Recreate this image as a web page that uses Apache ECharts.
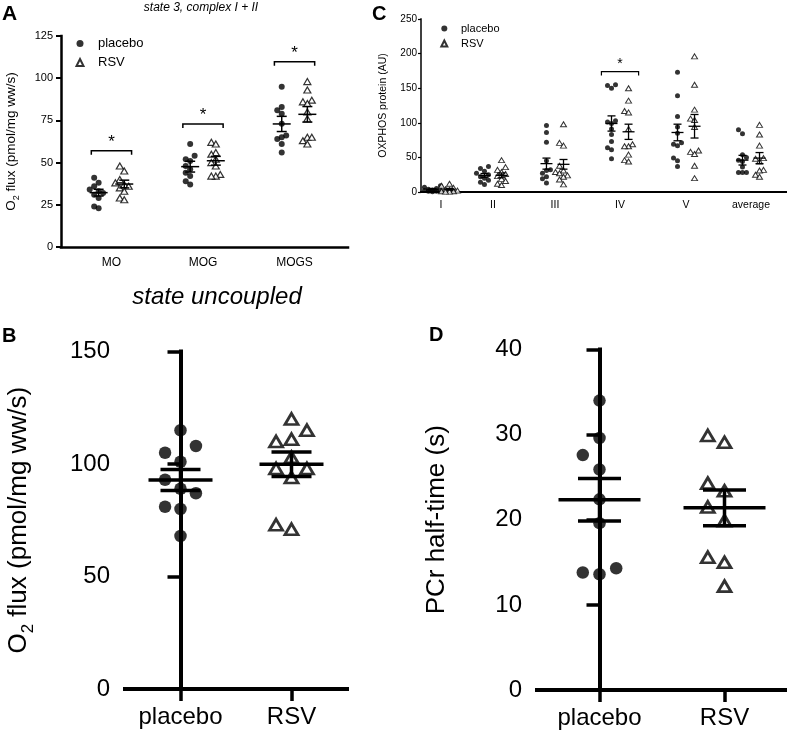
<!DOCTYPE html>
<html>
<head>
<meta charset="utf-8">
<script src="https://cdn.jsdelivr.net/npm/echarts@6/dist/echarts.min.js"></script>
<style>html,body{margin:0;padding:0;background:#fff}#c{width:787px;height:736px}</style>
</head>
<body>
<div id="c"></div>
<script>
// ---------------- data ----------------
// Panel A: state 3, complex I + II
const catA = ['MO', 'MOG', 'MOGS'];
const aPlacebo = [
  [41, 38, 36, 34, 33, 32, 31, 29, 24, 23],
  [61, 54, 52, 51, 48, 46, 44, 42, 39, 37],
  [95, 83, 81, 79, 73, 66, 65, 64, 61, 56]
];
const aRSV = [
  [48, 45, 40, 38, 37, 36, 35, 33, 29, 28],
  [62, 61, 56, 55, 52, 50, 48, 43, 42, 42],
  [98, 93, 87, 86, 85, 80, 76, 65, 65, 63, 61]
];
const aPlaceboMean = [32.2, 47.6, 72.9];
const aPlaceboSem = [2.0, 3.2, 4.5];
const aRSVMean = [37.3, 51.1, 78.6];
const aRSVSem = [2.3, 2.6, 4.6];
const aSigY = [57, 72.9, 109.8];
const aTicks = [0, 25, 50, 75, 100, 125];

// Panel C: OXPHOS protein
const catC = ['I', 'II', 'III', 'IV', 'V', 'average'];
const cPlacebo = [
  [9, 7, 5, 4, 3, 2, 2, 1, 1, 0.5],
  [37, 34, 30, 27, 25, 22, 20, 17, 14, 11],
  [96, 86, 72, 45, 32, 31, 27, 22, 19, 13],
  [155, 154, 150, 103, 101, 99, 91, 83, 73, 64, 61, 48],
  [173, 139, 109, 94, 85, 71, 69, 67, 49, 45, 37],
  [90, 84, 54, 50, 46, 44, 36, 28, 28, 28]
];
const cRSV = [
  [12, 9, 6, 4, 3, 2, 1, 1, 0.5, 0.5],
  [46, 36, 32, 29, 26, 23, 19, 16, 12, 10],
  [98, 71, 67, 38, 31, 29, 27, 24, 22, 18, 11],
  [150, 132, 117, 115, 91, 69, 66, 66, 54, 46, 44],
  [196, 155, 119, 106, 104, 94, 60, 58, 55, 38, 20],
  [97, 83, 67, 49, 48, 44, 32, 31, 25, 22]
];
const cPlaceboMean = [4, 24, 41, 99, 86, 46];
const cPlaceboSem = [1, 2.7, 8, 11, 12, 7];
const cRSVMean = [4, 24, 40, 87, 95, 49];
const cRSVSem = [1.2, 3.5, 7, 11, 17, 8];
const cSigY = [null, null, null, 174, null, null];
const cTicks = [0, 50, 100, 150, 200, 250];

// Panel B: state uncoupled
const catB = ['placebo', 'RSV'];
const bPlacebo = [115, 108, 105, 101, 93, 89, 87, 81, 80, 68];
const bRSV = [120, 115, 111, 110, 103, 98, 98, 94, 73, 71];
const bMean = [92.9, 99.9];
const bSem = [4.7, 5.4];
const bTicks = [0, 50, 100, 150];

// Panel D: PCr half-time
const catD = ['placebo', 'RSV'];
const dPlacebo = [34, 29.6, 27.6, 25.9, 22.4, 19.6, 14.3, 13.8, 13.6];
const dRSV = [29.9, 29.1, 24.3, 23.4, 21.5, 19.9, 15.6, 15, 12.2];
const dMean = [22.35, 21.4];
const dSem = [2.5, 2.1];
const dTicks = [0, 10, 20, 30, 40];

// ---------------- layout (not data) ----------------
const F = "'Liberation Sans', Arial, Helvetica, sans-serif";
const POS_A = [1, 2, 3];
const POS_C = [0.333, 1.2, 2.233, 3.317, 4.417, 5.5];
const POS_BD = [0, 1];
const LA = {px: 92.5, py: 1.688, dY: 5.5, step: 4.5, maxCol: 2, off: 0.14};
const LC = {px: 60, py: 0.6932, dY: 5, step: 4, maxCol: 2, off: 0.142};
const LB = {px: 111.5, py: 2.252, dY: 18, step: 15.5, maxCol: 1, off: 0};
const LD = {px: 125, py: 8.51, dY: 18, step: 16.7, maxCol: 1, off: 0};

// deterministic column beeswarm: a point moves to a side column only when it
// would sit too close to another point of the same column
function swarm(values, L) {
  const order = values.map((v, i) => i).sort((a, b) => values[a] - values[b]);
  const placed = [];
  const cols = new Array(values.length);
  order.forEach(i => {
    const y = values[i] * L.py;
    let best = 0, bestGap = -1;
    for (let k = 0; k <= 2 * L.maxCol; k++) {
      const m = k === 0 ? 0 : (k % 2 ? -Math.ceil(k / 2) : Math.ceil(k / 2));
      let gap = Infinity;
      placed.forEach(p => { if (p.c === m) gap = Math.min(gap, Math.abs(p.y - y)); });
      if (gap >= L.dY) { best = m; break; }
      if (gap > bestGap) { bestGap = gap; best = m; }
    }
    placed.push({c: best, y: y});
    cols[i] = best;
  });
  return cols.map(c => c * L.step);
}
function swarmData(groups, pos, side, L) {
  const out = [];
  groups.forEach((vals, i) => {
    const offs = swarm(vals, L);
    vals.forEach((v, j) => out.push([pos[i] + side * L.off + offs[j] / L.px, v]));
  });
  return out;
}
function meanData(pos, side, L, means, sems) {
  return means.map((m, i) => [pos[i] + side * L.off, m, sems[i]]);
}
function meanSemRender(w, cap, lw) {
  return function (params, api) {
    const x = api.value(0), m = api.value(1), s = api.value(2);
    const c = api.coord([x, m]), t = api.coord([x, m + s]), b = api.coord([x, m - s]);
    const st = {stroke: '#000', lineWidth: lw, fill: null};
    return {type: 'group', children: [
      {type: 'line', shape: {x1: c[0] - w / 2, y1: c[1], x2: c[0] + w / 2, y2: c[1]}, style: st},
      {type: 'line', shape: {x1: c[0], y1: t[1], x2: c[0], y2: b[1]}, style: st},
      {type: 'line', shape: {x1: c[0] - cap / 2, y1: t[1], x2: c[0] + cap / 2, y2: t[1]}, style: st},
      {type: 'line', shape: {x1: c[0] - cap / 2, y1: b[1], x2: c[0] + cap / 2, y2: b[1]}, style: st}
    ]};
  };
}
function bracketRender(hw, tick, lw, fs) {
  return function (params, api) {
    const x = api.value(0), y = api.value(1);
    const l = api.coord([x - hw, y]), r = api.coord([x + hw, y]);
    return {type: 'group', children: [
      {type: 'polyline', shape: {points: [[l[0], l[1] + tick], [l[0], l[1]], [r[0], r[1]], [r[0], r[1] + tick]]},
        style: {stroke: '#000', lineWidth: lw, fill: null}},
      {type: 'text', style: {text: '*', x: (l[0] + r[0]) / 2, y: l[1], align: 'center', verticalAlign: 'bottom',
        fontSize: fs, fontFamily: F, fill: '#000'}}
    ]};
  };
}
function sigData(pos, ys) {
  const out = [];
  ys.forEach((y, i) => { if (y !== null) out.push([pos[i], y]); });
  return out;
}
function catFormatter(pos, cats) {
  return v => { const i = pos.findIndex(p => Math.abs(p - v) < 1e-6); return i >= 0 ? cats[i] : ''; };
}
function yAxis(grid, ticks, o) {
  return {
    type: 'value', gridIndex: grid, min: ticks[0], max: ticks[ticks.length - 1], interval: ticks[1] - ticks[0],
    axisLine: {show: true, lineStyle: {color: '#000', width: o.lw, cap: 'square'}},
    axisTick: {show: true, length: o.tl, lineStyle: {color: '#000', width: o.tw}},
    axisLabel: {margin: o.lm, fontSize: o.fs, fontFamily: F, color: '#000'},
    splitLine: {show: false},
    name: o.name, nameLocation: 'middle', nameGap: o.ng, nameRotate: 90,
    nameTextStyle: {fontSize: o.nfs, fontFamily: F, color: '#000', lineHeight: o.nlh,
      rich: {sub: {fontSize: o.sfs, fontFamily: F, color: '#000', verticalAlign: 'bottom', lineHeight: o.sfs}}}
  };
}
function xAxis(grid, min, max, pos, cats, o) {
  return {
    type: 'value', gridIndex: grid, min: min, max: max,
    axisLine: {show: true, lineStyle: {color: '#000', width: o.lw, cap: 'square'}},
    axisTick: {show: o.tick, customValues: pos, length: o.tl || 0, lineStyle: {color: '#000', width: o.tw || 1}},
    axisLabel: {customValues: pos, formatter: catFormatter(pos, cats), margin: o.lm, fontSize: o.fs, fontFamily: F, color: '#000'},
    splitLine: {show: false}
  };
}
const circ = (size) => ({symbol: 'circle', symbolSize: size, itemStyle: {color: '#000'}});
const tri = (size, bw) => ({symbol: 'triangle', symbolSize: size, itemStyle: {color: '#fff', borderColor: '#000', borderWidth: bw}});

const series = [];
function addPanel(idx, groupsP, groupsR, pos, L, mP, sP, mR, sR, st) {
  series.push(Object.assign({type: 'scatter', name: 'placebo', xAxisIndex: idx, yAxisIndex: idx, z: 2,
    data: swarmData(groupsP, pos, -1, L)}, circ(st.cs)));
  series.push(Object.assign({type: 'scatter', name: 'RSV', xAxisIndex: idx, yAxisIndex: idx, z: 2,
    data: swarmData(groupsR, pos, 1, L)}, tri(st.ts, st.bw)));
  series.push({type: 'custom', name: 'mean' + idx, xAxisIndex: idx, yAxisIndex: idx, z: 3,
    renderItem: meanSemRender(st.mw, st.cw, st.mlw), encode: {x: 0, y: 1},
    data: meanData(pos, -1, L, mP, sP).concat(meanData(pos, 1, L, mR, sR))});
}
addPanel(0, aPlacebo, aRSV, POS_A, LA, aPlaceboMean, aPlaceboSem, aRSVMean, aRSVSem,
  {cs: 6, ts: [7, 6], bw: 1.2, mw: 18, cw: 10, mlw: 1.5});
series.push({type: 'custom', name: 'sigA', xAxisIndex: 0, yAxisIndex: 0, z: 3, encode: {x: 0, y: 1},
  renderItem: bracketRender(0.22, 4, 1.5, 17), data: sigData(POS_A, aSigY)});
addPanel(1, cPlacebo, cRSV, POS_C, LC, cPlaceboMean, cPlaceboSem, cRSVMean, cRSVSem,
  {cs: 5, ts: [6, 5], bw: 1, mw: 12, cw: 8, mlw: 1.3});
series.push({type: 'custom', name: 'sigC', xAxisIndex: 1, yAxisIndex: 1, z: 3, encode: {x: 0, y: 1},
  renderItem: bracketRender(0.31, 4, 1.2, 14), data: sigData(POS_C, cSigY)});
// B and D: placebo at position 0, RSV at position 1
function addTwoGroup(idx, p, r, L, means, sems, st) {
  series.push(Object.assign({type: 'scatter', name: 'placebo', xAxisIndex: idx, yAxisIndex: idx, z: 2,
    data: swarmData([p], [POS_BD[0]], 0, L)}, circ(st.cs)));
  series.push(Object.assign({type: 'scatter', name: 'RSV', xAxisIndex: idx, yAxisIndex: idx, z: 2,
    data: swarmData([r], [POS_BD[1]], 0, L)}, tri(st.ts, st.bw)));
  series.push({type: 'custom', name: 'mean' + idx, xAxisIndex: idx, yAxisIndex: idx, z: 3,
    renderItem: meanSemRender(st.mw, st.cw, st.mlw), encode: {x: 0, y: 1},
    data: meanData(POS_BD, 0, L, means, sems)});
}
addTwoGroup(2, bPlacebo, bRSV, LB, bMean, bSem, {cs: 12.5, ts: [13, 11], bw: 2.8, mw: 64, cw: 40, mlw: 3.5});
addTwoGroup(3, dPlacebo, dRSV, LD, dMean, dSem, {cs: 12.5, ts: [13, 11], bw: 2.8, mw: 82, cw: 43, mlw: 3.5});

const option = {
  animation: false,
  backgroundColor: '#fff',
  grid: [
    {left: 58, top: 36, right: 439, bottom: 489},
    {left: 421, top: 19, right: 0, bottom: 544},
    {left: 124, top: 351.5, right: 440, bottom: 47},
    {left: 537, top: 349.5, right: 0, bottom: 46}
  ],
  xAxis: [
    xAxis(0, 0.449, 3.584, POS_A, catA, {lw: 2.5, tick: false, lm: 10, fs: 12}),
    xAxis(1, 0, 6.1, POS_C, catC, {lw: 2, tick: false, lm: 8, fs: 10.5}),
    xAxis(2, -0.5, 1.5, POS_BD, catB, {lw: 4, tick: true, tl: 12, tw: 3.5, lm: 16, fs: 24}),
    xAxis(3, -0.5, 1.5, POS_BD, catD, {lw: 4, tick: true, tl: 12, tw: 3.5, lm: 16, fs: 24})
  ],
  yAxis: [
    yAxis(0, aTicks, {lw: 2.5, tl: 5, tw: 2, lm: 8, fs: 11, name: 'O{sub|2} flux (pmol/mg ww/s)', ng: 40, nfs: 13.5, nlh: 20, sfs: 9}),
    yAxis(1, cTicks, {lw: 1.5, tl: 3, tw: 1.2, lm: 4, fs: 10, name: 'OXPHOS protein (AU)', ng: 31, nfs: 10.5, nlh: 13, sfs: 8}),
    yAxis(2, bTicks, {lw: 4, tl: 13, tw: 3.5, lm: 15, fs: 24, name: 'O{sub|2} flux (pmol/mg ww/s)', ng: 88, nfs: 26, nlh: 36, sfs: 17}),
    yAxis(3, dTicks, {lw: 4, tl: 13, tw: 3.5, lm: 15, fs: 24, name: 'PCr half-time (s)', ng: 85, nfs: 26, nlh: 30, sfs: 17})
  ],
  legend: [
    {left: 75.5, top: 37, padding: 0, orient: 'vertical', itemWidth: 7, itemHeight: 7, itemGap: 6, selectedMode: false,
      textStyle: {fontSize: 13, fontFamily: F, color: '#000', padding: [0, 0, 0, 9.5]},
      data: [{name: 'placebo', icon: 'circle'}, {name: 'RSV', icon: 'triangle'}]},
    {left: 440.3, top: 23, padding: 0, orient: 'vertical', itemWidth: 6, itemHeight: 6, itemGap: 4, selectedMode: false,
      textStyle: {fontSize: 11, fontFamily: F, color: '#000', padding: [0, 0, 0, 8.7]},
      data: [{name: 'placebo', icon: 'circle'}, {name: 'RSV', icon: 'triangle'}]}
  ],
  graphic: [
    {type: 'text', x: 2, y: 14, style: {text: 'A', fontSize: 21, fontWeight: 'bold', fontFamily: F, fill: '#000', verticalAlign: 'middle'}},
    {type: 'text', x: 201, y: 8, style: {text: 'state 3, complex I + II', fontSize: 12, fontStyle: 'italic', fontFamily: F, fill: '#000', align: 'center', verticalAlign: 'middle'}},
    {type: 'text', x: 372, y: 14, style: {text: 'C', fontSize: 20, fontWeight: 'bold', fontFamily: F, fill: '#000', verticalAlign: 'middle'}},
    {type: 'text', x: 217, y: 297, style: {text: 'state uncoupled', fontSize: 24, fontStyle: 'italic', fontFamily: F, fill: '#000', align: 'center', verticalAlign: 'middle'}},
    {type: 'text', x: 2, y: 336, style: {text: 'B', fontSize: 20, fontWeight: 'bold', fontFamily: F, fill: '#000', verticalAlign: 'middle'}},
    {type: 'text', x: 429, y: 335, style: {text: 'D', fontSize: 20, fontWeight: 'bold', fontFamily: F, fill: '#000', verticalAlign: 'middle'}}
  ],
  series: series
};
const chart = echarts.init(document.getElementById('c'), null, {renderer: 'canvas'});
chart.setOption(option);
</script>
</body>
</html>
